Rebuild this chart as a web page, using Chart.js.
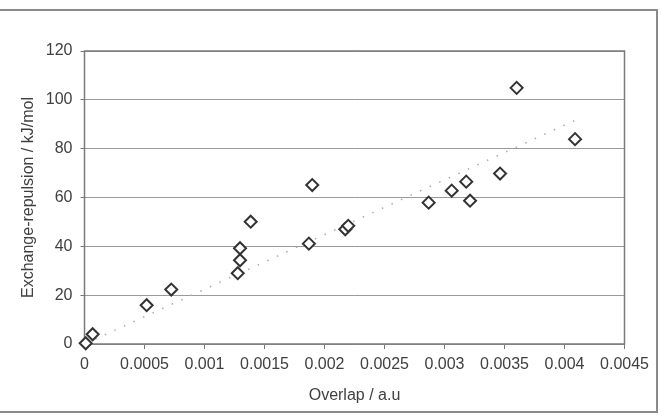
<!DOCTYPE html>
<html>
<head>
<meta charset="utf-8">
<script src="https://cdn.jsdelivr.net/npm/chart.js@4"></script>
<style>
  html, body { margin: 0; padding: 0; background: #fff; }
  #wrap { position: relative; width: 661px; height: 416px; }
</style>
</head>
<body>
<div id="wrap"><canvas id="c"></canvas></div>
<script>
// overlap (a.u) vs exchange-repulsion (kJ/mol)
const overlap = [
  0.00001, 0.000068, 0.000518, 0.000723, 0.001277, 0.001296, 0.001296,
  0.001385, 0.001870, 0.001898, 0.002173, 0.002198, 0.002868, 0.003060,
  0.003181, 0.003213, 0.003463, 0.003601, 0.004088,
];
const repulsion = [
  0.3, 4.0, 15.9, 22.3, 29.0, 34.3, 39.2,
  50.1, 41.1, 65.1, 47.0, 48.4, 57.9, 62.8,
  66.5, 58.7, 69.8, 104.9, 83.9,
];
// linear trendline end points
const trendX = [0.00001, 0.004088];
const trendY = [0.2, 91.6];

const xTicks = [0, 0.0005, 0.001, 0.0015, 0.002, 0.0025, 0.003, 0.0035, 0.004, 0.0045];
const yTicks = [0, 20, 40, 60, 80, 100, 120];

const TEXT = '#404040';
const FONT = { family: 'Liberation Sans, Arial, sans-serif', size: 16 };

const frame = {
  id: 'frame',
  beforeDraw(chart) {
    const { ctx } = chart;
    ctx.save();
    ctx.fillStyle = '#fff';
    ctx.fillRect(0, 0, chart.width, chart.height);
    ctx.strokeStyle = '#8a8a8a';
    ctx.lineWidth = 2;
    ctx.strokeRect(-2, 10, 659, 402);
    ctx.restore();
  },
  beforeDatasetsDraw(chart) {
    const { ctx, chartArea: a } = chart;
    ctx.save();
    ctx.strokeStyle = '#7a7a7a';
    ctx.lineWidth = 1.5;
    ctx.strokeRect(a.left, a.top, a.right - a.left, a.bottom - a.top);
    ctx.restore();
  },
};

new Chart(document.getElementById('c'), {
  type: 'scatter',
  data: {
    datasets: [
      {
        data: overlap.map((x, i) => ({ x, y: repulsion[i] })),
        pointStyle: 'rectRot',
        pointRadius: 6,
        pointBorderWidth: 2,
        borderColor: '#333',
        backgroundColor: '#fff',
        clip: false,
      },
      {
        type: 'line',
        data: trendX.map((x, i) => ({ x, y: trendY[i] })),
        borderColor: '#aaa',
        borderWidth: 1.5,
        borderDash: [1.5, 9],
        pointRadius: 0,
        fill: false,
        order: 1,
      },
    ],
  },
  options: {
    responsive: true,
    maintainAspectRatio: false,
    animation: false,
    layout: { padding: { left: 0, top: 51, right: 36.5, bottom: 0 } },
    plugins: { legend: { display: false }, tooltip: { enabled: false } },
    scales: {
      x: {
        type: 'linear',
        min: 0,
        max: 0.0045,
        afterBuildTicks: (s) => { s.ticks = xTicks.map((v) => ({ value: v })); },
        afterFit: (s) => { s.height = 72; },
        border: { display: false },
        grid: { drawOnChartArea: false, drawTicks: true, tickLength: 5, color: '#777' },
        ticks: { color: TEXT, font: FONT, padding: 6, maxRotation: 0, callback: (v) => String(+v.toFixed(4)) },
        title: { display: true, text: 'Overlap / a.u', color: TEXT, font: FONT, padding: { top: 0, bottom: 11 } },
      },
      y: {
        min: 0,
        max: 120,
        afterBuildTicks: (s) => { s.ticks = yTicks.map((v) => ({ value: v })); },
        afterFit: (s) => { s.width = 84.5; },
        border: { display: false },
        grid: { color: '#9a9a9a', lineWidth: 1, tickLength: 4, tickColor: '#777' },
        ticks: { color: TEXT, font: FONT, padding: 8 },
        title: { display: true, text: 'Exchange-repulsion / kJ/mol', color: TEXT, font: FONT, padding: { top: 19, bottom: 0 } },
      },
    },
  },
  plugins: [frame],
});
</script>
</body>
</html>
